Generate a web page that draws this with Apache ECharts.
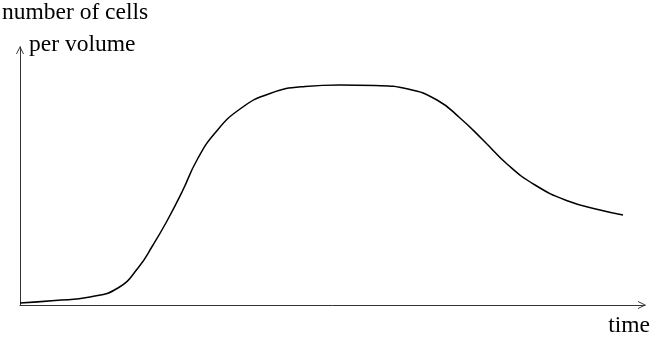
<!DOCTYPE html>
<html>
<head>
<meta charset="utf-8">
<script src="https://cdn.jsdelivr.net/npm/echarts@6/dist/echarts.min.js"></script>
<style>
  html, body { margin: 0; padding: 0; background: #fff; }
  #chart { width: 651px; height: 341px; }
</style>
</head>
<body>
<div id="chart"></div>
<script>
// growth curve (time units, cells per volume units)
var timeValues = [0, 35, 70, 98, 118, 133, 147, 162, 177, 195, 220, 250, 285, 320, 355, 388, 417, 440, 463, 487, 515, 548, 580, 603];
var cellValues = [2, 4.5, 8, 17, 37, 60, 84, 113, 145, 172, 196, 211.5, 218.5, 220, 219.5, 216, 205, 187, 165, 141, 120, 104, 95, 90];

var yTitleLines = ["number of cells", "per volume"];
var xTitle = "time";

var chart = echarts.init(document.getElementById("chart"));
var points = timeValues.map(function (t, i) { return [t, cellValues[i]]; });

var font = "'Liberation Serif', 'DejaVu Serif', serif";
// open arrow head like the original
var openArrow = "path://M0,10 L5,0 L10,10 L8.8,10 L5,2.4 L1.2,10 Z";

var option = {
  backgroundColor: "#fff",
  animation: false,
  grid: { left: 20, top: 47, right: 6, bottom: 36 },
  xAxis: {
    type: "value",
    min: 0,
    max: 625,
    axisLine: {
      show: true,
      symbol: ["none", openArrow],
      symbolSize: [8, 9],
      symbolOffset: [0, -3],
      lineStyle: { color: "#333", width: 1 }
    },
    axisTick: { show: false },
    axisLabel: { show: false },
    splitLine: { show: false }
  },
  yAxis: {
    type: "value",
    min: 0,
    max: 258,
    axisLine: {
      show: true,
      symbol: ["none", openArrow],
      symbolSize: [8, 9],
      symbolOffset: [0, -3],
      lineStyle: { color: "#333", width: 1 }
    },
    axisTick: { show: false },
    axisLabel: { show: false },
    splitLine: { show: false }
  },
  graphic: [
    { type: "text", left: 2, top: 1, style: { text: yTitleLines[0], font: "23.5px " + font, fill: "#000" } },
    { type: "text", left: 29, top: 33, style: { text: yTitleLines[1], font: "23.5px " + font, fill: "#000" } },
    { type: "text", right: 1, bottom: 3, style: { text: xTitle, font: "23.5px " + font, fill: "#000" } }
  ],
  series: [
    {
      type: "line",
      data: points,
      smooth: 0.5,
      showSymbol: false,
      lineStyle: { color: "#000", width: 1.5 }
    }
  ]
};
chart.setOption(option);
</script>
</body>
</html>
